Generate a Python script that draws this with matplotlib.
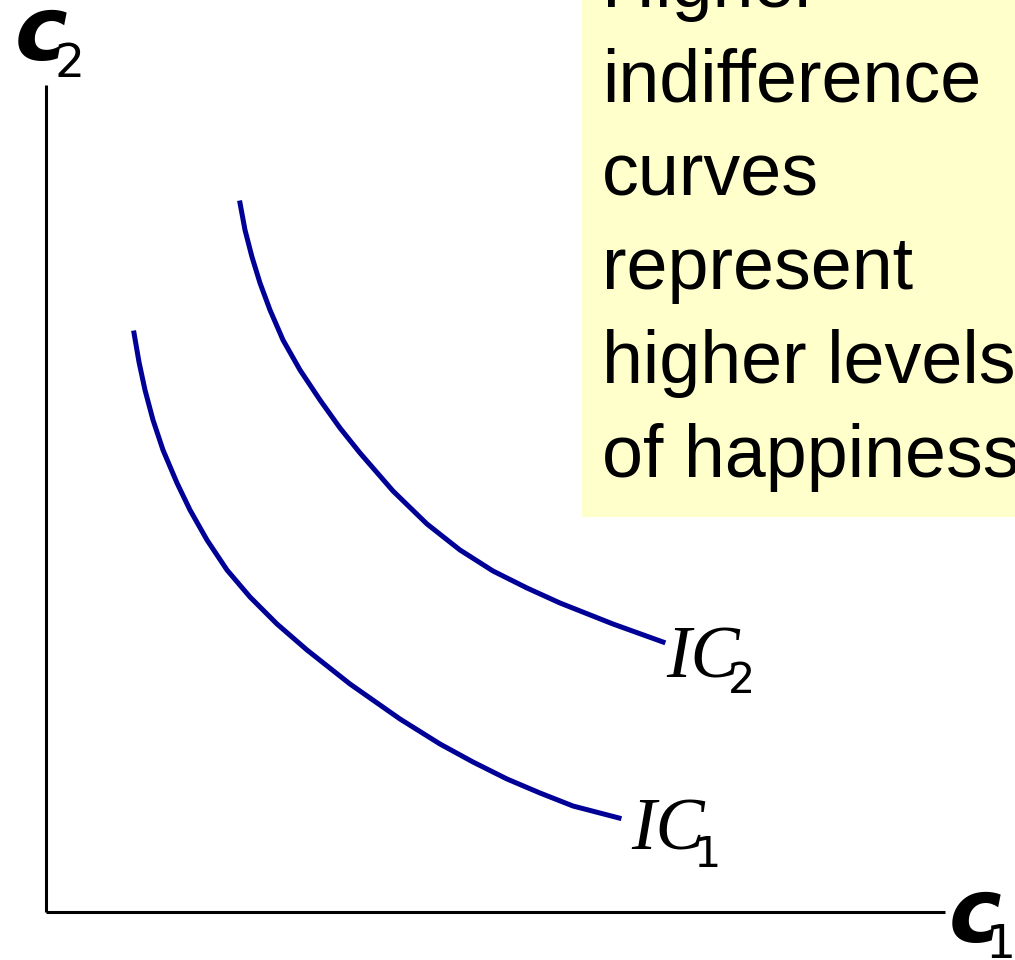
#indifference curves IC1, IC2 with note box
import matplotlib
matplotlib.use("Agg")
import matplotlib.pyplot as plt
from matplotlib.patches import Rectangle

# curve points, c1 / c2 units (origin at the axis corner)
ic1_c1 = [88, 93, 99, 107, 117, 131, 144, 161, 181, 204, 231, 261, 304, 354, 394, 427, 461, 494, 527, 573]
ic1_c2 = [579, 550, 522, 492, 462, 429, 402, 372, 342, 315, 288, 262, 228, 193, 168, 150, 133, 119, 106, 94]
ic2_c1 = [194, 199, 206, 214, 224, 237, 254, 274, 294, 314, 347, 381, 414, 447, 481, 514, 567, 617]
ic2_c2 = [709, 682, 655, 629, 602, 572, 542, 512, 484, 459, 421, 388, 362, 341, 324, 309, 288, 270]

note_lines = ["Higher", "indifference", "curves", "represent", "higher levels", "of happiness"]

W, H = 1015, 960
X0, Y0 = 46, 912  # axis corner in pixels


def px(x, y):
    # pixel position -> data coords
    return x - X0, Y0 - y


fig = plt.figure(figsize=(W / 100, H / 100), dpi=100)
ax = fig.add_axes([0, 0, 1, 1])
ax.set_xlim(-X0, W - X0)
ax.set_ylim(Y0 - H, Y0)
ax.axis("off")

# yellow note box
bx, by = px(582, 517)
ax.add_patch(Rectangle((bx, by), W - 582 + 5, 517 + 5, facecolor="#FFFFCC",
                       edgecolor="none", zorder=0))
for i, line in enumerate(note_lines):
    tx, ty = px(602, 7 + 94 * i)
    ax.text(tx, ty, line, fontsize=53, family="Liberation Sans",
            va="baseline", ha="left", zorder=1)

# axes lines
ax.plot([0, 0], [0, Y0 - 85], color="black", lw=2.2, solid_capstyle="butt")
ax.plot([0, 945 - X0], [0, 0], color="black", lw=2.2, solid_capstyle="butt")

# curves
ax.plot(ic1_c1, ic1_c2, color="#000096", lw=3.6, solid_joinstyle="round")
ax.plot(ic2_c1, ic2_c2, color="#000096", lw=3.6, solid_joinstyle="round")

# axis labels
ax.text(*px(15, 60), "c", fontsize=64, family="DejaVu Sans", weight="bold",
        style="italic", va="baseline")
ax.text(*px(54, 77), "2", fontsize=34, family="DejaVu Sans", va="baseline")
ax.text(*px(949, 942), "c", fontsize=64, family="DejaVu Sans", weight="bold",
        style="italic", va="baseline")
ax.text(*px(986, 958), "1", fontsize=34, family="DejaVu Sans", va="baseline")

# curve labels
ax.text(*px(666, 677), "IC", fontsize=53, family="Liberation Serif",
        style="italic", va="baseline")
ax.text(*px(728, 693), "2", fontsize=31, family="DejaVu Sans", va="baseline")
ax.text(*px(631, 850), "IC", fontsize=53, family="Liberation Serif",
        style="italic", va="baseline")
ax.text(*px(693, 867), "1", fontsize=31, family="DejaVu Sans", va="baseline")

fig.savefig("out.png", dpi=100)
